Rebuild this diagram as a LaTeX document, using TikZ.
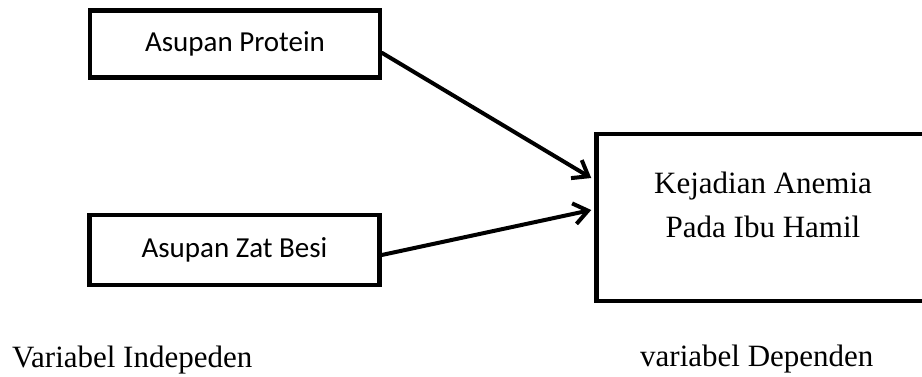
\documentclass[tikz,border=0pt]{standalone}
\usepackage{fontspec}
\setmainfont{Liberation Serif}
\newfontfamily\calibrifont{Carlito}
\usetikzlibrary{arrows.meta}

\begin{document}
\begin{tikzpicture}[
        x=1pt, y=-1pt,
        varbox/.style={rectangle, draw=black, line width=4.5pt, inner sep=0pt},
        indbox/.style={varbox, minimum width=290pt, minimum height=67pt, font=\calibrifont\fontsize{29}{34}\selectfont},
        arrowline/.style={line width=4pt, line cap=round, -{Straight Barb[length=14pt, width=21pt, line width=4pt]}},
        caption/.style={inner sep=0pt, anchor=base west, font=\fontsize{31}{36}\selectfont}
        ]
        \useasboundingbox (0,0) rectangle (922,376);

        \node [indbox] (protein) at (235,44) {Asupan Protein};
        \node [indbox, minimum height=70pt] (besi) at (234.5,250) {Asupan Zat Besi};
        \node [varbox, minimum width=333pt, minimum height=167pt] (anemia) at (763,217.5) {};
        \node [align=center, inner sep=0pt, font=\fontsize{31}{44}\selectfont] (anemiatext) at (763,205) {Kejadian Anemia\\Pada Ibu Hamil};

        \draw [arrowline] ([yshift=-9pt]protein.east) -- ([xshift=-3pt, yshift=39.5pt]anemia.west);
        \draw [arrowline] ([yshift=-5pt]besi.east) -- ([xshift=-3pt, yshift=7.5pt]anemia.west);

        \node [caption] (indep) at (12,367) {Variabel Indepeden};
        \node [caption] (dep) at (640,366) {variabel Dependen};
    \end{tikzpicture}
\end{document}
